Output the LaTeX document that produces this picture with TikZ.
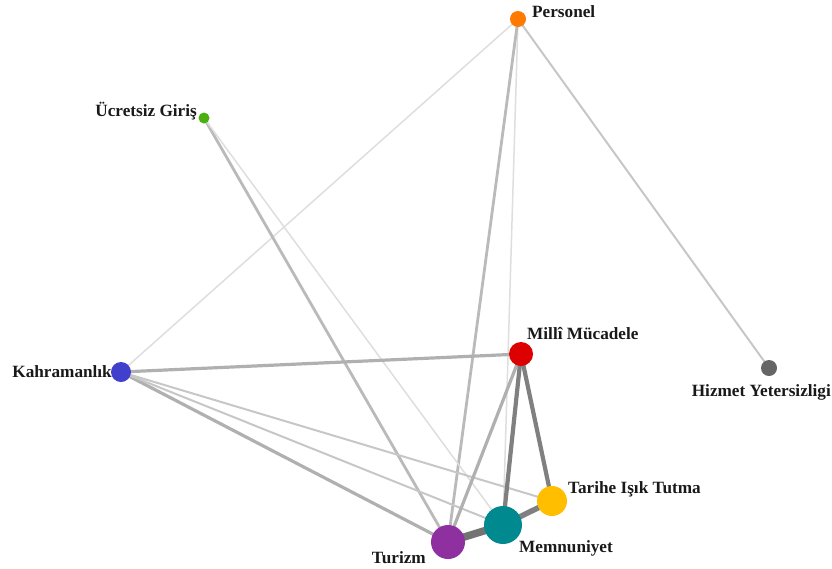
\documentclass[tikz,border=0pt]{standalone}
\usepackage{fontspec}
\setmainfont{Liberation Serif}
\usetikzlibrary{backgrounds}
\begin{document}
\begin{tikzpicture}[x=1pt,y=-1pt,
  vert/.style={circle,inner sep=0pt,draw=none},
  lbl/.style={font=\bfseries\fontsize{17.2}{19}\selectfont,inner sep=0pt,text=black!90},
  eA/.style={line width=1.5pt,draw=black!13},
  eB/.style={line width=2pt,draw=black!22},
  eC/.style={line width=2.8pt,draw=black!27},
  eD/.style={line width=3.2pt,draw=black!31},
  eE/.style={line width=4.2pt,draw=black!50},
  eF/.style={line width=5.5pt,draw=black!50},
  eG/.style={line width=7.5pt,draw=black!55}]
\useasboundingbox (0,0) rectangle (832,568);
\definecolor{cPer}{HTML}{FF7A00}
\definecolor{cUcr}{HTML}{4CAF10}
\definecolor{cKah}{HTML}{4040CC}
\definecolor{cMil}{HTML}{DD0000}
\definecolor{cHiz}{HTML}{666666}
\definecolor{cTar}{HTML}{FFBE00}
\definecolor{cMem}{HTML}{008A90}
\definecolor{cTur}{HTML}{8E30A0}
\node[vert,fill=cPer,minimum size=16pt] (per) at (518,19) {};
\node[vert,fill=cUcr,minimum size=11pt] (ucr) at (204,118) {};
\node[vert,fill=cKah,minimum size=20pt] (kah) at (121,372) {};
\node[vert,fill=cMil,minimum size=24pt] (mil) at (521,354) {};
\node[vert,fill=cHiz,minimum size=16pt] (hiz) at (769,368) {};
\node[vert,fill=cTar,minimum size=30pt] (tar) at (552,501) {};
\node[vert,fill=cMem,minimum size=38pt] (mem) at (503,525) {};
\node[vert,fill=cTur,minimum size=34pt] (tur) at (448,542) {};
\begin{pgfonlayer}{background}
\draw[eA] (per.center) -- (kah.center);
\draw[eA] (per.center) -- (mem.center);
\draw[eC] (per.center) -- (tur.center);
\draw[eB] (per.center) -- (hiz.center);
\draw[eC] (ucr.center) -- (tur.center);
\draw[eA] (ucr.center) -- (mem.center);
\draw[eD] (kah.center) -- (mil.center);
\draw[eD] (kah.center) -- (tur.center);
\draw[eB] (kah.center) -- (mem.center);
\draw[eB] (kah.center) -- (tar.center);
\draw[eD] (mil.center) -- (tur.center);
\draw[eE] (mil.center) -- (mem.center);
\draw[eE] (mil.center) -- (tar.center);
\draw[eF] (mem.center) -- (tar.center);
\draw[eG] (tur.center) -- (mem.center);
\end{pgfonlayer}
\node[lbl,anchor=west] (lper) at (532,12) {Personel};
\node[lbl,anchor=east] (lucr) at (197,111) {Ücretsiz Giriş};
\node[lbl,anchor=east] (lkah) at (112,372) {Kahramanlık};
\node[lbl,anchor=west] (lmil) at (527,334) {Millî Mücadele};
\node[lbl,anchor=east] (lhiz) at (831,392) {Hizmet Yetersizligi};
\node[lbl,anchor=west] (ltar) at (568,489) {Tarihe Işık Tutma};
\node[lbl,anchor=west] (lmem) at (519,548) {Memnuniyet};
\node[lbl,anchor=east] (ltur) at (426,558) {Turizm};
\end{tikzpicture}
\end{document}
